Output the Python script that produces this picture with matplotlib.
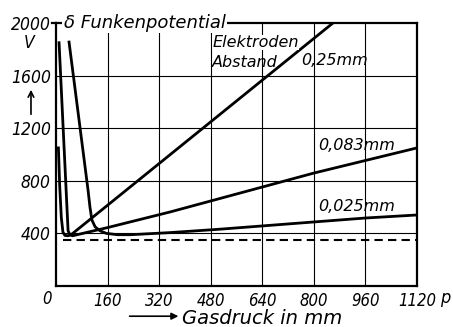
import matplotlib
matplotlib.use("Agg")
import matplotlib.pyplot as plt

# pressure p [mm Hg] and spark potential [V] per electrode distance
p_025 = [6, 10, 15, 20, 26, 36, 48, 859]
v_025 = [1050, 760, 520, 410, 385, 382, 395, 2000]

p_083 = [8, 36, 42, 50, 160, 353, 640, 800, 1120]
v_083 = [1850, 420, 388, 382, 445, 563, 753, 859, 1050]

p_0025 = [39, 98, 104, 110, 120, 135, 155, 190, 230, 353, 508, 800, 960, 1120]
v_0025 = [1855, 730, 600, 502, 450, 420, 400, 390, 390, 406, 432, 487, 517, 540]

p_min = [20, 1120]
v_min = [350, 350]

xticks = [160, 320, 480, 640, 800, 960, 1120]
yticks = [400, 800, 1200, 1600, 2000]

fig = plt.figure(figsize=(4.53, 3.27), dpi=100)
ax = fig.add_axes([0.1247, 0.1254, 0.7958, 0.8043])

lw = 2.0
ax.plot(p_025, v_025, color="black", lw=lw, solid_joinstyle="round")
ax.plot(p_083, v_083, color="black", lw=lw, solid_joinstyle="round")
ax.plot(p_0025, v_0025, color="black", lw=lw, solid_joinstyle="round")
ax.plot(p_min, v_min, color="black", lw=1.5, dashes=(4, 2.5))

ax.set_xlim(0, 1120)
ax.set_ylim(0, 2000)

for x in xticks[:-1]:
    ax.axvline(x, color="black", lw=0.8, zorder=0)
for y in yticks[:-1]:
    ax.axhline(y, color="black", lw=0.8, zorder=0)

for s in ax.spines.values():
    s.set_linewidth(1.6)

font = dict(family="DejaVu Sans", style="italic", stretch="condensed")
wide = dict(family="DejaVu Sans", style="italic")

ax.set_xticks(xticks)
ax.set_xticklabels([str(t) for t in xticks], fontsize=12, **font)
ax.set_yticks(yticks)
ax.set_yticklabels([str(t) for t in yticks], fontsize=12.5, **font)
ax.tick_params(length=0, pad=4)

# small tick at 2000
ax.plot([-14, 0], [2000, 2000], color="black", lw=1.6, clip_on=False)

# "0" on the x axis sits left of the corner
ax.text(-28, -100, "0", ha="center", va="center", fontsize=12, **font)
fig.text(0.982, 0.088, "p", ha="center", va="center", fontsize=13, **font)

# y unit and arrow
fig.text(0.064, 0.868, "V", ha="center", va="center", fontsize=12.5, **font)
fig.add_artist(matplotlib.patches.FancyArrowPatch(
    (0.0684, 0.642), (0.0684, 0.734), transform=fig.transFigure,
    arrowstyle="->", mutation_scale=10, lw=1.2, color="black"))

# x label with arrow
fig.add_artist(matplotlib.patches.FancyArrowPatch(
    (0.280, 0.033), (0.400, 0.033), transform=fig.transFigure,
    arrowstyle="-|>", mutation_scale=10, lw=1.2, color="black"))
fig.text(0.402, 0.010, "Gasdruck in mm", ha="left", va="baseline", fontsize=14, **wide)

# title sitting on the top spine
ax.text(22, 2000, "\u03b4 Funkenpotential", ha="left", va="center", fontsize=13,
        bbox=dict(facecolor="white", edgecolor="none", pad=1), **wide)

ax.text(484, 1848, "Elektroden", ha="left", va="center", fontsize=11.5,
        bbox=dict(facecolor="white", edgecolor="none", pad=0), **wide)
ax.text(484, 1703, "Abstand", ha="left", va="center", fontsize=11.5, **wide)
ax.text(760, 1718, "0,25mm", ha="left", va="center", fontsize=11.5, **wide)
ax.text(812, 1072, "0,083mm", ha="left", va="center", fontsize=11.5, **wide)
ax.text(812, 601, "0,025mm", ha="left", va="center", fontsize=11.5, **wide)

fig.savefig("out.png", dpi=100)
